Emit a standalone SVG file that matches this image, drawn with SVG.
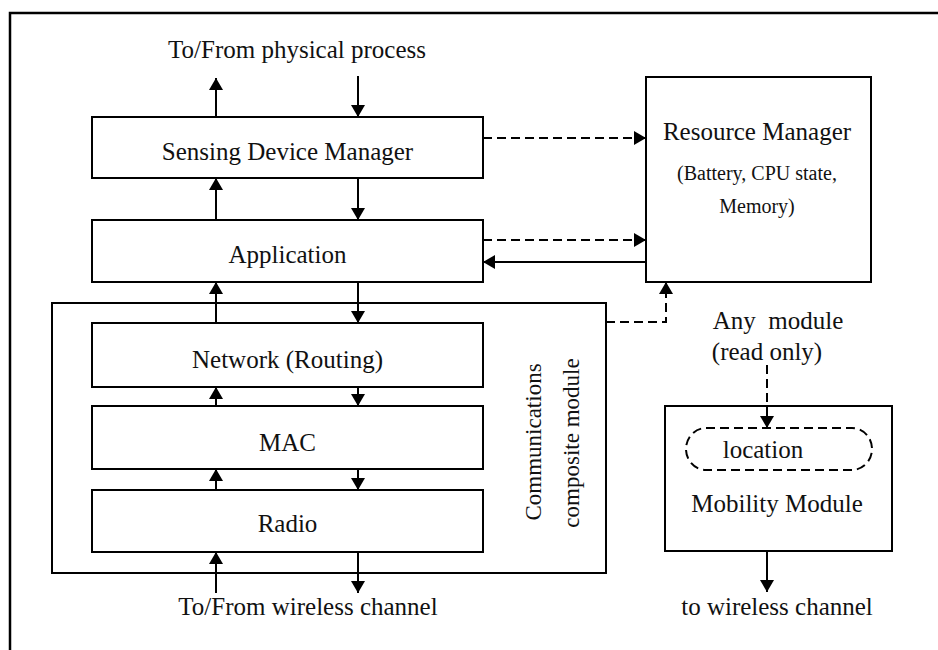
<svg xmlns="http://www.w3.org/2000/svg" width="938" height="650" viewBox="0 0 938 650">
  <defs>
    <marker id="arrow" viewBox="0 0 12 14" refX="12" refY="7" markerWidth="12" markerHeight="14" markerUnits="userSpaceOnUse" orient="auto">
      <path d="M0,0 L12,7 L0,14 Z" fill="#000"/>
    </marker>
    <style>
      .box { fill: #fff; stroke: #000; stroke-width: 2; }
      .frame { fill: none; stroke: #000; stroke-width: 2.5; }
      .conn { fill: none; stroke: #000; stroke-width: 2; marker-end: url(#arrow); }
      .dash { stroke-dasharray: 9 5; }
      .dashbox { fill: none; stroke: #000; stroke-width: 2; stroke-dasharray: 9 5; }
      text { font-family: "Liberation Serif", "Times New Roman", serif; fill: #111; text-anchor: middle; }
      .t25 { font-size: 25px; }
      .t23 { font-size: 23px; }
      .t20 { font-size: 20px; }
    </style>
  </defs>
  <rect width="938" height="650" fill="#fff"/>

  <!-- page frame -->
  <path class="frame" d="M10,650 V13 H938"/>

  <!-- free labels -->
  <text class="t25" x="297" y="58">To/From physical process</text>
  <text class="t25" x="308" y="615">To/From wireless channel</text>
  <text class="t25" x="778" y="329" xml:space="preserve">Any  module</text>
  <text class="t25" x="767" y="360">(read only)</text>
  <text class="t25" x="777" y="615">to wireless channel</text>

  <g id="comm-module">
    <rect class="box" x="52" y="303" width="554" height="270"/>
    <text class="t23" transform="translate(541,442) rotate(-90)">Communications</text>
    <text class="t23" transform="translate(579,443) rotate(-90)">composite module</text>
  </g>

  <g id="sensing-device-manager">
    <rect class="box" x="92" y="117" width="391" height="61"/>
    <text class="t25" x="287.5" y="160">Sensing Device Manager</text>
  </g>

  <g id="application">
    <rect class="box" x="92" y="220" width="391" height="62"/>
    <text class="t25" x="287.5" y="263">Application</text>
  </g>

  <g id="network">
    <rect class="box" x="92" y="323" width="391" height="64"/>
    <text class="t25" x="287.5" y="368">Network (Routing)</text>
  </g>

  <g id="mac">
    <rect class="box" x="92" y="406" width="391" height="63"/>
    <text class="t25" x="287.5" y="451">MAC</text>
  </g>

  <g id="radio">
    <rect class="box" x="92" y="490" width="391" height="62"/>
    <text class="t25" x="287.5" y="532">Radio</text>
  </g>

  <g id="resource-manager">
    <rect class="box" x="646" y="77" width="225" height="205"/>
    <text class="t25" x="757" y="140">Resource Manager</text>
    <text class="t20" x="757" y="180">(Battery, CPU state,</text>
    <text class="t20" x="757" y="213">Memory)</text>
  </g>

  <g id="mobility-module">
    <rect class="box" x="665" y="406" width="227" height="145"/>
    <rect class="dashbox" x="686" y="428" width="186" height="42" rx="20" ry="21"/>
    <text class="t25" x="763" y="458">location</text>
    <text class="t25" x="777" y="512">Mobility Module</text>
  </g>

  <g id="connectors">
    <!-- physical process -->
    <path class="conn" d="M216,117 V78"/>
    <path class="conn" d="M358,76 V117"/>
    <!-- sensing <-> application -->
    <path class="conn" d="M216,220 V178"/>
    <path class="conn" d="M358,178 V220"/>
    <!-- application <-> network -->
    <path class="conn" d="M216,323 V282"/>
    <path class="conn" d="M358,282 V323"/>
    <!-- network <-> mac -->
    <path class="conn" d="M216,406 V387"/>
    <path class="conn" d="M358,387 V406"/>
    <!-- mac <-> radio -->
    <path class="conn" d="M216,490 V469"/>
    <path class="conn" d="M358,469 V490"/>
    <!-- wireless channel -->
    <path class="conn" d="M216,593 V552"/>
    <path class="conn" d="M358,552 V593"/>
    <!-- resource manager links -->
    <path class="conn dash" d="M483,138 H646"/>
    <path class="conn dash" d="M483,240 H646"/>
    <path class="conn" d="M646,262 H483"/>
    <path class="conn dash" d="M606,322 H666 V282"/>
    <!-- mobility -->
    <path class="conn dash" d="M767,365 V428"/>
    <path class="conn" d="M767,551 V592"/>
  </g>
</svg>
